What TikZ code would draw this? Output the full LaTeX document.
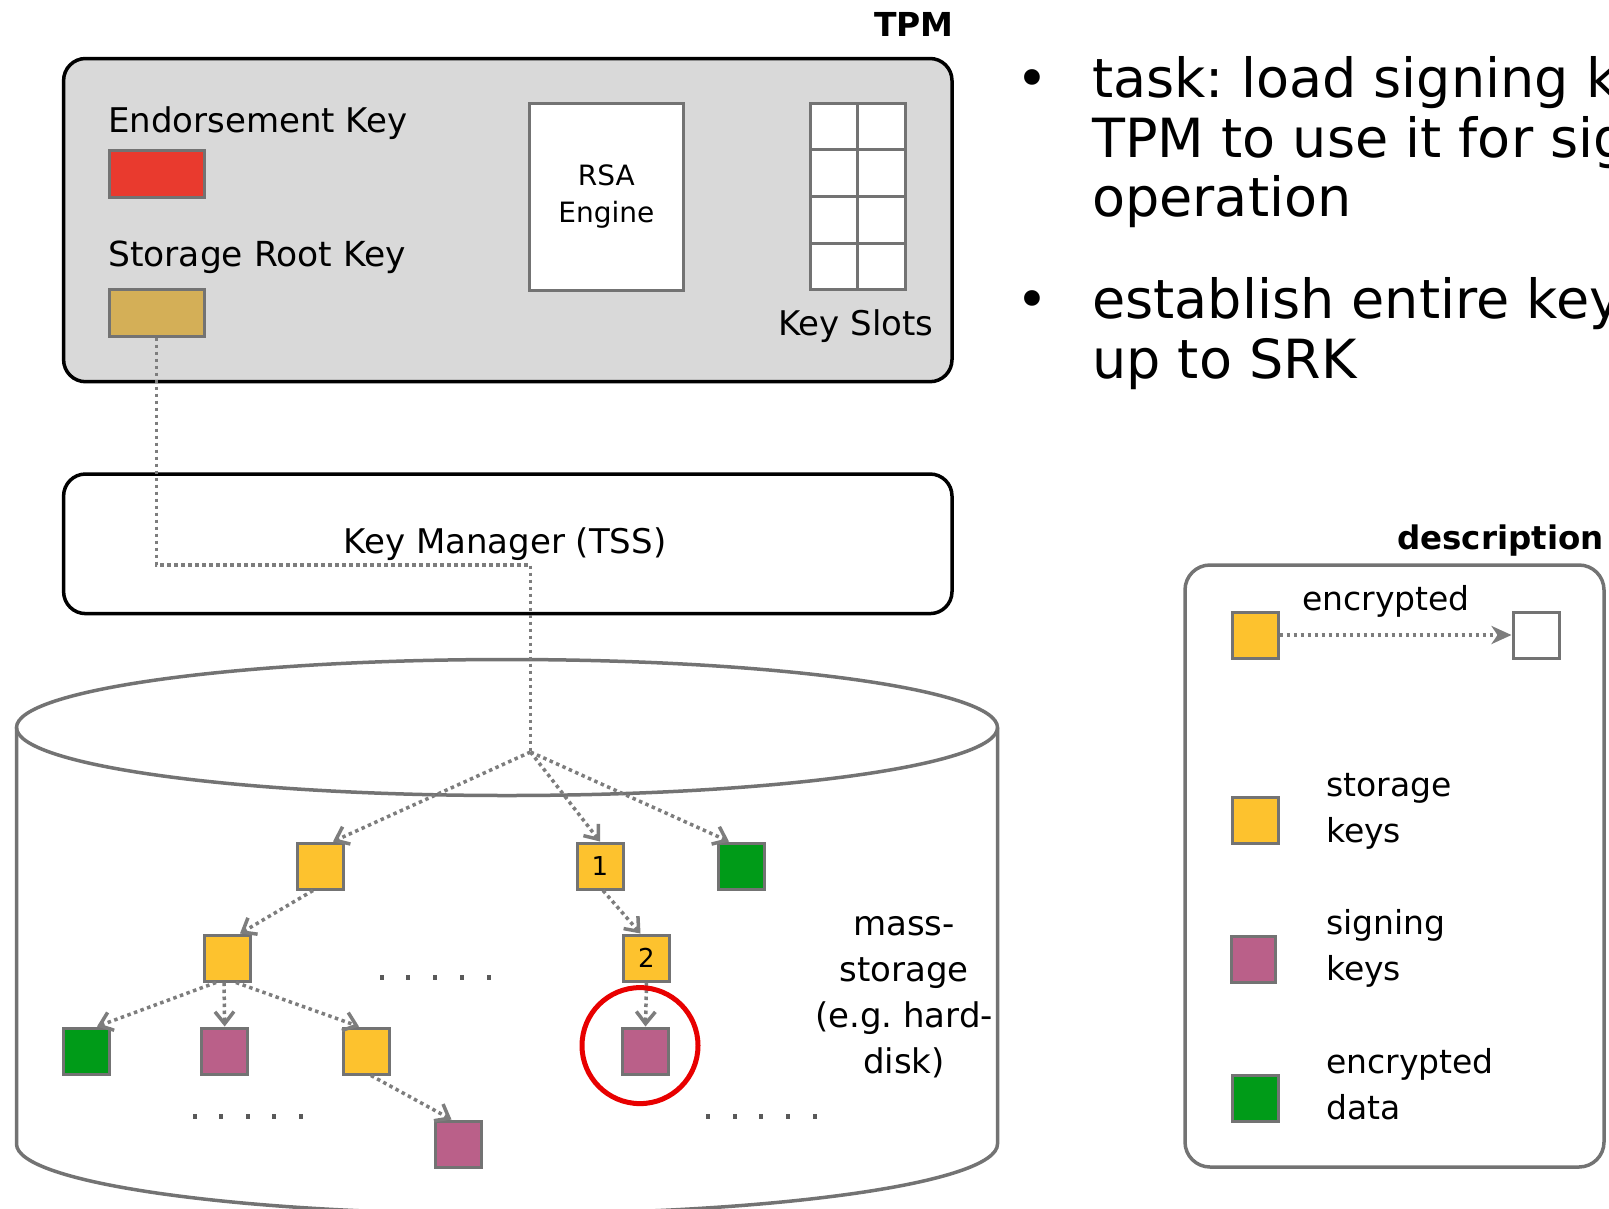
\documentclass[tikz,border=0pt]{standalone}
\usepackage{fontspec}
\setmainfont{DejaVu Sans}
\usetikzlibrary{arrows.meta,calc}
\frenchspacing

\definecolor{tpmgray}{RGB}{217,217,217}
\definecolor{edgegray}{RGB}{115,115,115}
\definecolor{linkgray}{RGB}{125,125,125}
\definecolor{ekred}{RGB}{233,58,46}
\definecolor{srkgold}{RGB}{212,175,87}
\definecolor{keyyellow}{RGB}{253,194,46}
\definecolor{datagreen}{RGB}{0,155,24}
\definecolor{signpink}{RGB}{186,96,137}
\definecolor{markred}{RGB}{232,0,0}

\newcommand{\setfs}[2]{\fontsize{#1}{#2}\selectfont}

\begin{document}
\begin{tikzpicture}[x=1pt,y=-1pt,
  txt/.style={inner sep=0pt, font=\setfs{34}{46}},
  chip/.style={draw=black, line width=3.5pt, rounded corners=22pt},
  keysq/.style={draw=edgegray, line width=3pt, minimum width=46pt, minimum height=46pt, inner sep=0pt, font=\setfs{26}{26}},
  storagekey/.style={keysq, fill=keyyellow},
  signkey/.style={keysq, fill=signpink},
  datakey/.style={keysq, fill=datagreen},
  wrapline/.style={linkgray, line width=3.5pt, dash pattern=on 3.5pt off 3.5pt},
  wraparrow/.style={wrapline, -{Straight Barb[length=12pt,width=19pt,line width=3.5pt]}},
  ellip/.style={fill=black!65, minimum width=4pt, minimum height=5pt, inner sep=0pt}
]
\useasboundingbox (0,0) rectangle (1609,1208);
\clip (0,0) rectangle (1609,1208);

% ---------------- TPM chip ----------------
\node[txt, anchor=base east, font=\setfs{33}{33}\bfseries] (tpmlabel) at (954,36.6) {TPM};
\node[chip, fill=tpmgray, minimum width=888.4pt, minimum height=323.2pt] (tpm) at (507.8,220.1) {};

\node[txt, anchor=base west] (eklabel) at (108,132.5) {Endorsement Key};
\node[draw=edgegray, line width=3pt, fill=ekred, minimum width=95pt, minimum height=47pt, inner sep=0pt] (ek) at (156.5,173.5) {};
\node[txt, anchor=base west, font=\setfs{34.5}{46}] (srklabel) at (108,266) {Storage Root Key};
\node[draw=edgegray, line width=3pt, fill=srkgold, minimum width=95pt, minimum height=47pt, inner sep=0pt] (srk) at (156.5,312.5) {};

\node[draw=edgegray, line width=3pt, fill=white, minimum width=153.5pt, minimum height=186.4pt, inner sep=0pt] (rsa) at (606.3,196.8) {};
% multi-line nodes are placed by the baseline of their last line
\node[txt, anchor=base, font=\setfs{28}{37}, align=center] (rsalabel) at (606.3,222.7) {RSA\\Engine};

% key slot grid: 2 columns x 4 rows
\node[draw=edgegray, line width=3pt, fill=white, minimum width=94.4pt, minimum height=185.4pt, inner sep=0pt] (slots) at (857.8,196.3) {};
\draw[edgegray, line width=3pt] (slots.north) -- (slots.south);
\foreach \f in {0.25,0.5,0.75}
  \draw[edgegray, line width=3pt] ($(slots.north west)!\f!(slots.south west)$) -- ($(slots.north east)!\f!(slots.south east)$);
\node[txt, anchor=base] (slotslabel) at (856,335.5) {Key Slots};

% ---------------- Key manager ----------------
\node[chip, fill=white, minimum width=888.4pt, minimum height=139.6pt] (tss) at (507.8,543.8) {};
\node[txt, anchor=base] (tsslabel) at (505,553) {Key Manager (TSS)};

% ---------------- mass storage cylinder ----------------
\draw[edgegray, line width=3.5pt, fill=white]
  (16.5,727.5) -- (16.5,1144) arc[start angle=180, end angle=0, x radius=490.5, y radius=70]
  -- (997.5,727.5);
\draw[edgegray, line width=3.5pt] (507,727.5) ellipse[x radius=490.5, y radius=68];

\coordinate (root) at (530.5,752);
\coordinate (bendA) at (156.5,565);
\coordinate (bendB) at (530.5,565);
\draw[wrapline] (srk.south) -- (bendA) -- (bendB) -- (root);

% key hierarchy
\node[storagekey] (ka) at (320,866) {};
\node[storagekey] (k1) at (600,866) {1};
\node[datakey] (g1) at (741,866) {};
\node[storagekey] (kb) at (227,958) {};
\node[storagekey] (k2) at (646.5,958) {2};
\node[datakey] (g2) at (86,1051) {};
\node[signkey] (p1) at (224.7,1051) {};
\node[storagekey] (ky) at (366,1051) {};
\node[signkey] (target) at (645.5,1051) {};
\node[signkey] (p2) at (458.5,1144) {};

\draw[wraparrow] (root) -- ([xshift=13pt]ka.north);
\draw[wraparrow] (root) -- (k1.north);
\draw[wraparrow] (root) -- ([xshift=-12pt]g1.north);
\draw[wraparrow] ([xshift=-7pt]ka.south) -- ([xshift=13pt]kb.north);
\draw[wraparrow] ([xshift=3pt]k1.south) -- ([xshift=-6pt]k2.north);
\draw[wraparrow] ([xshift=-11pt]kb.south) -- ([xshift=11pt]g2.north);
\draw[wraparrow] ([xshift=-3pt]kb.south) -- (p1.north);
\draw[wraparrow] ([xshift=9pt]kb.south) -- ([xshift=-7pt]ky.north);
\draw[wraparrow] (k2.south) -- (target.north);
\draw[wraparrow] ([xshift=5pt]ky.south) -- ([xshift=-7pt]p2.north);

% the key to be loaded
\node[draw=markred, line width=5pt, circle, minimum size=116pt, inner sep=0pt] (mark) at (640,1045.6) {};

% ellipses marking further keys
\foreach \i in {0,...,4} {
  \node[ellip] (da\i) at (381.7+26.7*\i,977) {};
  \node[ellip] (db\i) at (195+26.4*\i,1116.4) {};
  \node[ellip] (dc\i) at (708+26.7*\i,1116.4) {};
}

\node[txt, anchor=base, align=center] (msl) at (904,1073) {mass-\\storage\\(e.g. hard-\\disk)};

% ---------------- bullet text ----------------
\node[txt, anchor=base, font=\setfs{54}{60}] (b1) at (1032,97.5) {•};
\node[txt, anchor=base west, font=\setfs{54}{59.5}, align=left] (t1) at (1092,216.5) {task: load signing key into\\TPM to use it for signing\\operation};
\node[txt, anchor=base, font=\setfs{54}{60}] (b2) at (1032,318) {•};
\node[txt, anchor=base west, font=\setfs{54}{60}, align=left] (t2) at (1092,378) {establish entire key chain\\up to SRK};

% ---------------- description ----------------
\node[txt, anchor=base east, font=\setfs{32.5}{32.5}\bfseries] (desclabel) at (1604,549.6) {description};
\node[draw=edgegray, line width=3.5pt, rounded corners=25pt, minimum width=419pt, minimum height=602pt] (legend) at (1394.5,866) {};

\node[storagekey] (lenc) at (1255,635) {};
\node[keysq, fill=white] (lplain) at (1536,635) {};
\draw[wrapline, -{Stealth[length=20pt,width=18pt,inset=6pt]}] (lenc.east) -- (lplain.west);
\node[txt, anchor=base, font=\setfs{33}{46}] (lenclabel) at (1386,610) {encrypted};

\node[storagekey] (lstor) at (1255,820) {};
\node[txt, anchor=base west, font=\setfs{33}{46}, align=left] (lstorlabel) at (1326,842) {storage\\keys};
\node[signkey, minimum width=44pt] (lsign) at (1253,959.5) {};
\node[txt, anchor=base west, font=\setfs{33}{46}, align=left] (lsignlabel) at (1326,980) {signing\\keys};
\node[datakey] (ldata) at (1255,1098) {};
\node[txt, anchor=base west, font=\setfs{33}{46}, align=left] (ldatalabel) at (1326,1119) {encrypted\\data};
\end{tikzpicture}
\end{document}
